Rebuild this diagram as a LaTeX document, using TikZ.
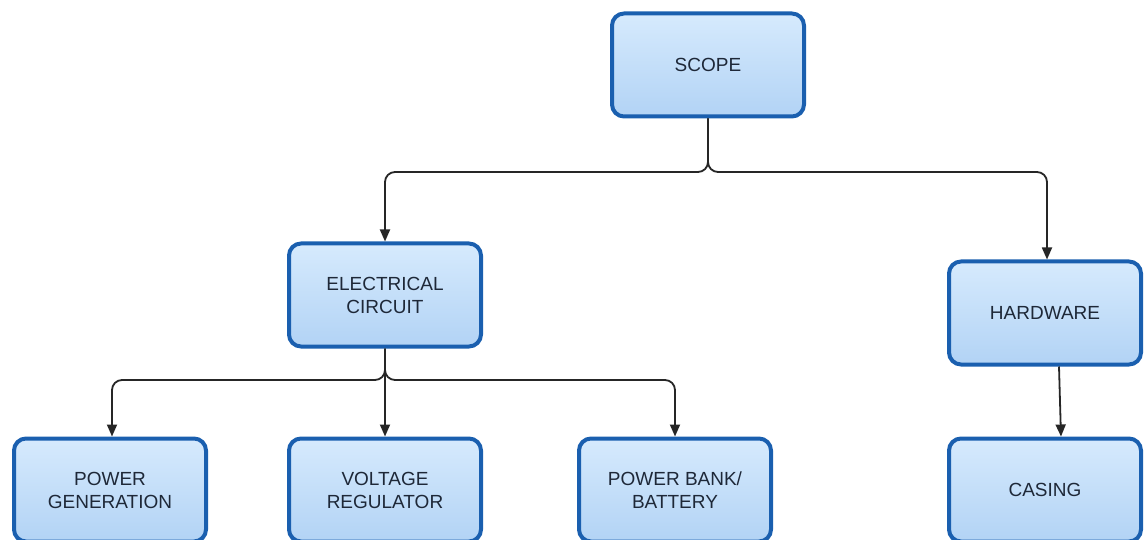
\documentclass[tikz,border=0pt]{standalone}
\usepackage{fontspec}
\setmainfont{Liberation Sans}
\usetikzlibrary{arrows.meta}
\definecolor{bordc}{HTML}{1A5FAF}
\definecolor{filltop}{HTML}{D6EAFD}
\definecolor{fillbot}{HTML}{B2D3F5}
\definecolor{txt}{HTML}{1E2838}
\begin{document}
\begin{tikzpicture}[x=1pt,y=-1pt,
  box/.style={draw=bordc, line width=4pt, rounded corners=12pt,
    top color=filltop, bottom color=fillbot,
    minimum width=192pt, minimum height=103pt, align=center,
    font=\fontsize{19}{23}\selectfont, text=txt, inner sep=2pt},
  conn/.style={line width=1.8pt, draw=black!85, rounded corners=10pt,
    -{Triangle[length=12pt,width=10pt]}}]
\useasboundingbox (0,0) rectangle (1144,540);
\clip (0,0) rectangle (1144,540);
\node[box] (scope) at (708,65) {SCOPE};
\node[box] (ec) at (385,295) {ELECTRICAL\\CIRCUIT};
\node[box] (hw) at (1045,313) {HARDWARE};
\node[box] (pg) at (110,490) {POWER\\GENERATION};
\node[box] (vr) at (385,490) {VOLTAGE\\REGULATOR};
\node[box] (pb) at (675,490) {POWER BANK/\\BATTERY};
\node[box] (cs) at (1045,490) {CASING};
\coordinate (j1) at (708,172);
\coordinate (j2) at (385,380);
\draw[conn] (scope.south) -- (j1) -| (ec.north);
\draw[conn] (scope.south) -- (j1) -| ([xshift=2pt]hw.north);
\draw[conn] (ec.south) -- (j2) -| ([xshift=2pt]pg.north);
\draw[conn] (ec.south) -- (vr.north);
\draw[conn] (ec.south) -- (j2) -| (pb.north);
\draw[conn] ([xshift=14pt]hw.south) -- ([xshift=16pt]cs.north);
\end{tikzpicture}
\end{document}
